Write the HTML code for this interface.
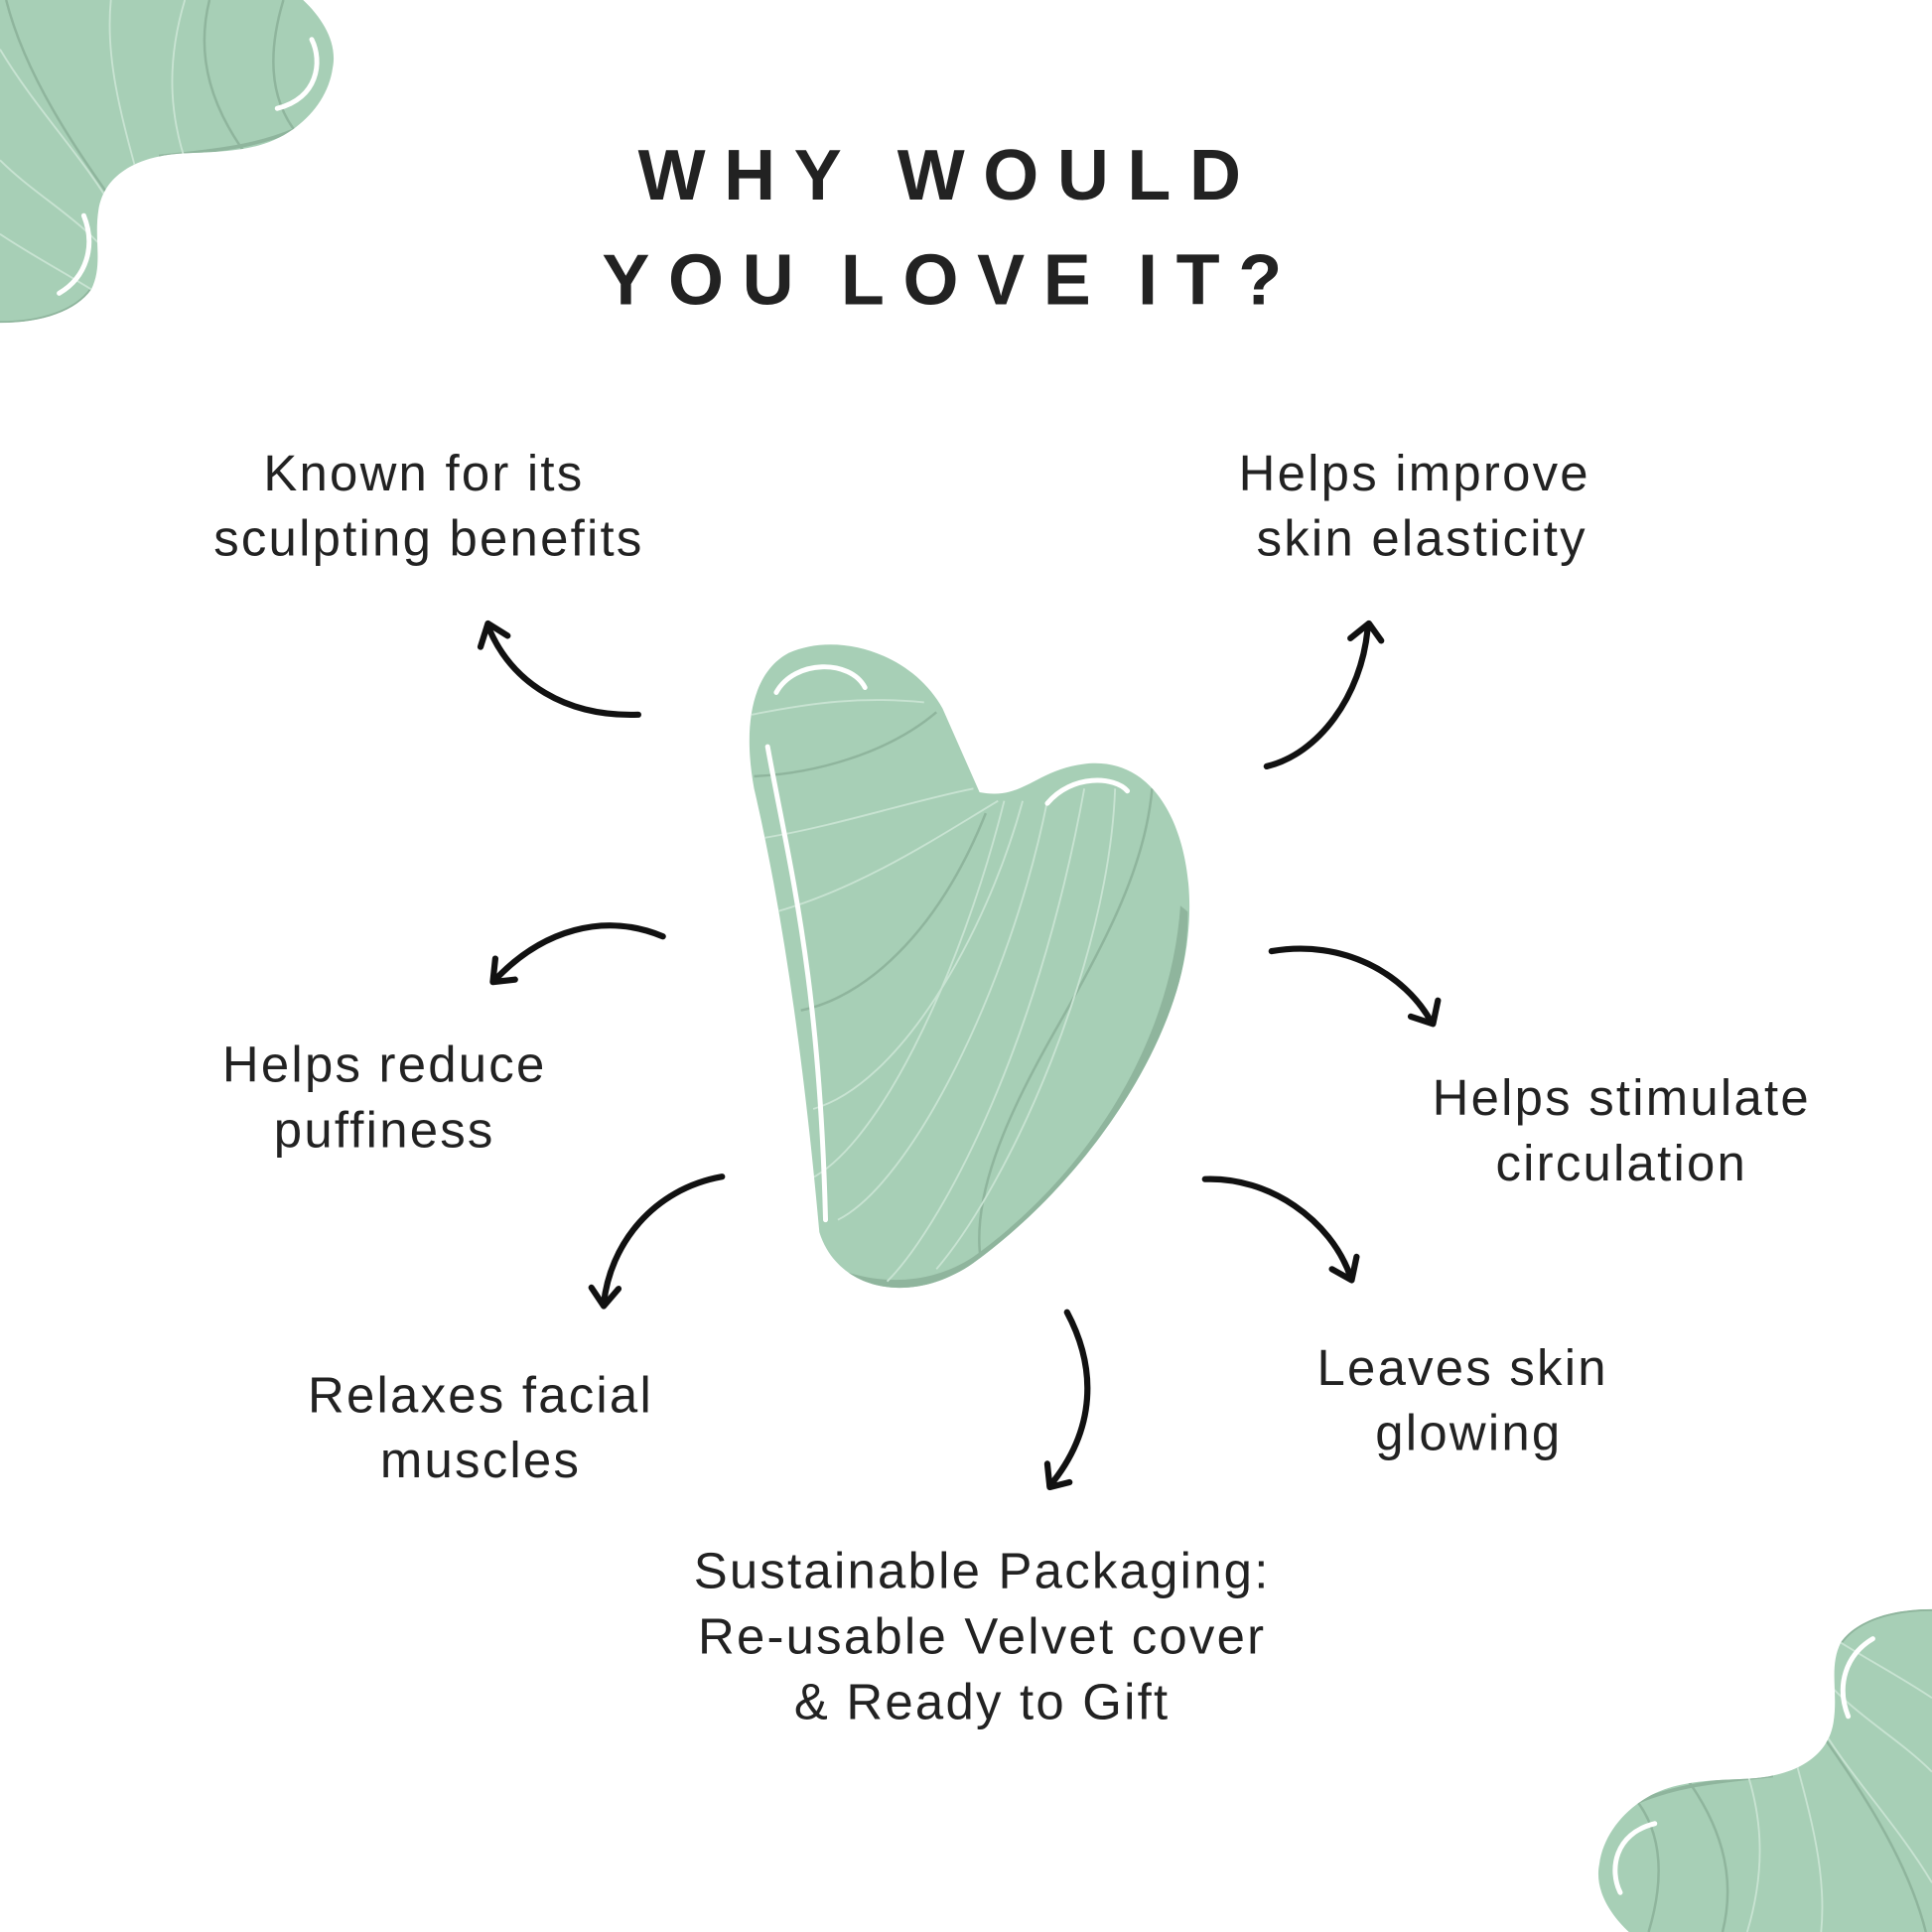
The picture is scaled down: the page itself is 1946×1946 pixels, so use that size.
<!DOCTYPE html>
<html><head><meta charset="utf-8"><style>
html,body{margin:0;padding:0;background:#fff;}
svg{display:block;}
text{font-family:"Liberation Sans",sans-serif;fill:#222;}
</style></head><body>
<svg width="1946" height="1946" viewBox="0 0 1568 1568" xmlns="http://www.w3.org/2000/svg">
<defs>
<clipPath id="bc"><path d="M0 0 L246 0 C262 15 274 35 270 55 C266 85 240 110 210 118 C180 126 150 122 129 127 C105 132 84 145 80 170 C76 195 84 215 74 235 C62 252 35 262 0 262 Z"/></clipPath>
<clipPath id="gc"><path d="M640 530 C680 512 740 530 765 575 L795 643 C830 650 840 625 880 620 C945 612 972 690 964 760 C955 850 880 960 790 1025 C740 1060 680 1048 665 1000 C656 900 640 760 612 640 C602 585 612 545 640 530 Z"/></clipPath>
<g id="blob">
<path d="M0 0 L246 0 C262 15 274 35 270 55 C266 85 240 110 210 118 C180 126 150 122 129 127 C105 132 84 145 80 170 C76 195 84 215 74 235 C62 252 35 262 0 262 Z" fill="#a7cfb6"/>
<g clip-path="url(#bc)" fill="none">
<path d="M0 262 C35 262 62 252 74 235 M129 127 C180 122 210 118 240 105" stroke="#8fb59d" stroke-width="3"/>
<path d="M5 0 C20 60 60 120 100 175 M170 0 C160 40 165 90 220 150 M230 0 C215 50 220 90 250 118" stroke="#8fb59d" stroke-width="2"/>
<path d="M90 0 C85 50 100 100 115 155 M150 0 C135 50 135 100 160 155 M0 40 C30 90 70 130 95 175 M0 130 C30 160 70 180 95 215 M0 190 C30 210 60 225 90 245" stroke="#c8e3d2" stroke-width="1.5"/>
</g>
<path d="M253 32 C262 50 258 80 225 88" stroke="#fff" stroke-width="4" fill="none" stroke-linecap="round"/>
<path d="M68 175 C78 200 70 225 48 238" stroke="#fff" stroke-width="4" fill="none" stroke-linecap="round"/>
</g>
</defs>
<use href="#blob"/>
<use href="#blob" transform="rotate(180 784 784)"/>

<text x="770" y="162" text-anchor="middle" font-size="58" font-weight="bold" letter-spacing="15">WHY WOULD</text>
<text x="772" y="247" text-anchor="middle" font-size="58" font-weight="bold" letter-spacing="15" word-spacing="-8">YOU LOVE IT?</text>

<g font-size="41" text-anchor="middle" letter-spacing="1.8">
<text x="344" y="398">Known for its</text>
<text x="348" y="451">sculpting benefits</text>
<text x="1148" y="398">Helps improve</text>
<text x="1154" y="451">skin elasticity</text>
<text x="312" y="878">Helps reduce</text>
<text x="312" y="931">puffiness</text>
<text x="1316" y="905">Helps stimulate</text>
<text x="1316" y="958">circulation</text>
<text x="390" y="1146">Relaxes facial</text>
<text x="390" y="1199">muscles</text>
<text x="1187" y="1124">Leaves skin</text>
<text x="1192" y="1177">glowing</text>
<text x="797" y="1289">Sustainable Packaging:</text>
<text x="797" y="1342">Re-usable Velvet cover</text>
<text x="797" y="1395">&amp; Ready to Gift</text>
</g>

<!-- gua sha -->
<path d="M640 530 C680 512 740 530 765 575 L795 643 C830 650 840 625 880 620 C945 612 972 690 964 760 C955 850 880 960 790 1025 C740 1060 680 1048 665 1000 C656 900 640 760 612 640 C602 585 612 545 640 530 Z" fill="#a7cfb6"/>
<g clip-path="url(#gc)" fill="none">
<path d="M964 740 C965 850 880 960 790 1028 C750 1055 700 1048 680 1030 C720 1045 760 1040 790 1020 C880 955 950 850 958 735 Z" fill="#8fb59d"/>
<path d="M612 630 C660 628 720 612 760 578 M650 820 C700 810 760 760 800 660 M800 1040 C780 980 820 900 860 830 C900 760 930 700 935 640" stroke="#8fb59d" stroke-width="2"/>
<path d="M610 580 C660 570 700 565 750 570 M620 680 C680 670 740 650 790 640 M630 740 C700 720 760 680 810 650 M660 900 C730 880 800 760 830 650 M680 990 C740 960 820 800 850 650 M720 1040 C760 1000 840 860 880 640 M760 1030 C820 960 900 780 905 640 M650 960 C710 940 780 790 815 650" stroke="#c8e3d2" stroke-width="1.5"/>
</g>
<path d="M630 562 C645 535 690 535 702 558" stroke="#fff" stroke-width="4" fill="none" stroke-linecap="round"/>
<path d="M850 652 C870 628 905 630 915 642" stroke="#fff" stroke-width="4" fill="none" stroke-linecap="round"/>
<path d="M623 606 C640 700 665 790 670 990" stroke="#fff" stroke-width="4" fill="none" stroke-linecap="round"/>

<!-- arrows -->
<g stroke="#111" stroke-width="5" fill="none" stroke-linecap="round" stroke-linejoin="round">
<path d="M518 580 C460 582 415 555 396 508"/><path d="M390 525 L396 506 L412 516"/>
<path d="M1028 622 C1070 612 1105 565 1110 510"/><path d="M1096 518 L1111 506 L1121 520"/>
<path d="M538 760 C490 740 440 755 402 795"/><path d="M402 778 L400 797 L418 795"/>
<path d="M1032 772 C1090 762 1140 790 1162 830"/><path d="M1145 825 L1163 831 L1167 812"/>
<path d="M586 955 C530 965 495 1010 490 1058"/><path d="M480 1045 L490 1060 L502 1046"/>
<path d="M978 957 C1030 955 1080 990 1096 1036"/><path d="M1081 1030 L1097 1039 L1101 1020"/>
<path d="M866 1065 C890 1110 890 1160 852 1206"/><path d="M850 1188 L852 1207 L868 1203"/>
</g>
</svg>
</body></html>
